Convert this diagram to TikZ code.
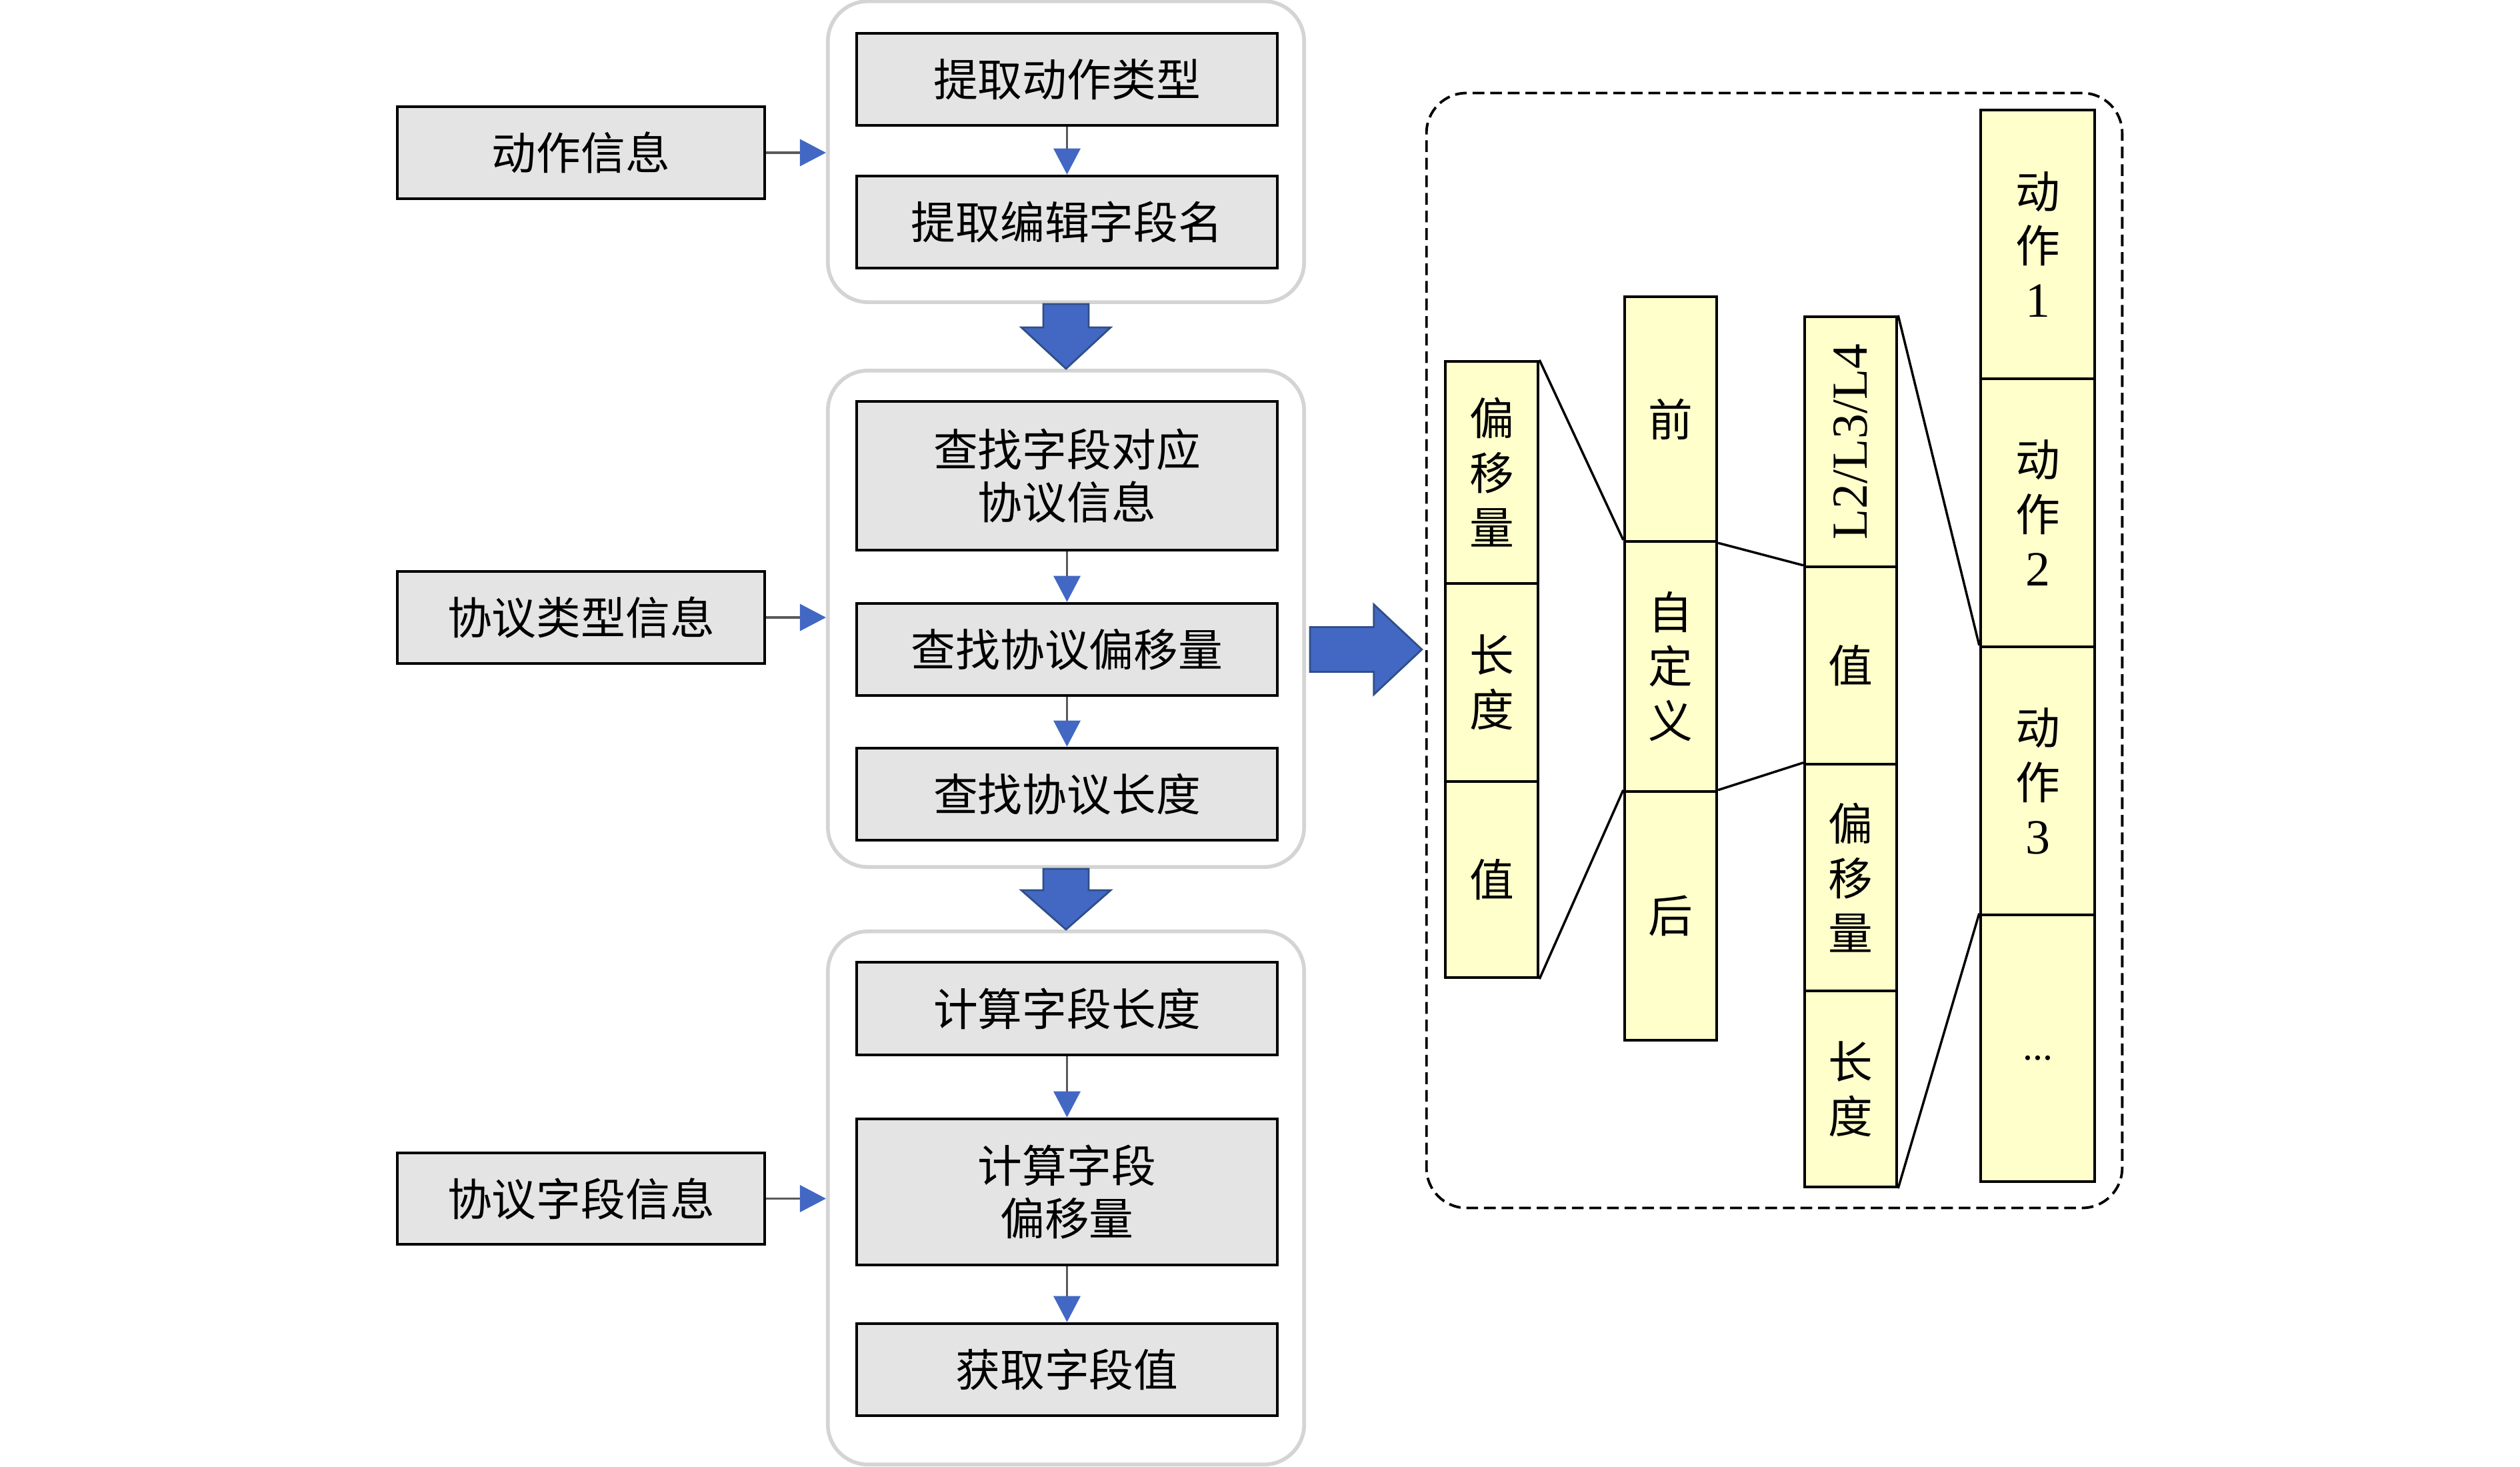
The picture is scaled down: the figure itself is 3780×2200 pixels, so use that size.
\documentclass[tikz,border=0pt]{standalone}
\usepackage{fontspec}
\setmainfont{Liberation Serif}
\newfontfamily\cjk{Noto Sans CJK SC}
\usetikzlibrary{arrows.meta,calc}
\definecolor{boxgray}{RGB}{228,228,228}
\definecolor{paleyellow}{RGB}{255,255,204}
\definecolor{arrowblue}{RGB}{66,104,196}
\definecolor{arrowedge}{RGB}{48,78,135}
\definecolor{groupgray}{RGB}{212,212,212}
\definecolor{linegray}{RGB}{90,90,90}
\begin{document}
\begin{tikzpicture}[x=0.01cm,y=-0.01cm,
  gbox/.style={draw=black,line width=1.3pt,fill=boxgray,inner sep=0pt,align=center,
    font=\cjk\fontsize{19}{22.7}\selectfont},
  grp/.style={draw=groupgray,line width=1.6pt,fill=white,rounded corners=0.6cm,inner sep=0pt},
  ybox/.style={draw=black,line width=1.2pt,fill=paleyellow,inner sep=0pt,align=center,
    font=\cjk\fontsize{19}{23.3}\selectfont},
  flow/.style={draw=linegray,line width=1pt,-{Triangle[length=0.39cm,width=0.4cm,color=arrowblue]}},
  link/.style={draw=black,line width=1pt},
  bigarrow/.style={fill=arrowblue,draw=arrowedge,line width=0.8pt,line join=miter},
  frame/.style={draw=black,line width=1.1pt,dash pattern=on 5pt off 2.5pt,rounded corners=0.6cm,inner sep=0pt}
]
\useasboundingbox (0,0) rectangle (3780,2200);

% groups
\node[grp,minimum width=7.14cm,minimum height=4.51cm] (g1) at (1599,227.5) {};
\node[grp,minimum width=7.14cm,minimum height=7.44cm] (g2) at (1599,928) {};
\node[grp,minimum width=7.14cm,minimum height=7.99cm] (g3) at (1599,1796.5) {};

% left input boxes
\node[gbox,minimum width=5.51cm,minimum height=1.38cm] (l1) at (871.5,229) {动作信息};
\node[gbox,minimum width=5.51cm,minimum height=1.38cm] (l2) at (871.5,926) {协议类型信息};
\node[gbox,minimum width=5.51cm,minimum height=1.37cm] (l3) at (871.5,1797.5) {协议字段信息};

% middle step boxes
\node[gbox,minimum width=6.31cm,minimum height=1.38cm] (b1) at (1600.5,119) {提取动作类型};
\node[gbox,minimum width=6.31cm,minimum height=1.38cm] (b2) at (1600.5,333) {提取编辑字段名};
\node[gbox,minimum width=6.31cm,minimum height=2.23cm] (b3) at (1600.5,713.5) {查找字段对应\\协议信息};
\node[gbox,minimum width=6.31cm,minimum height=1.38cm] (b4) at (1600.5,974) {查找协议偏移量};
\node[gbox,minimum width=6.31cm,minimum height=1.38cm] (b5) at (1600.5,1191) {查找协议长度};
\node[gbox,minimum width=6.31cm,minimum height=1.39cm] (b6) at (1600.5,1512.5) {计算字段长度};
\node[gbox,minimum width=6.31cm,minimum height=2.19cm] (b7) at (1600.5,1787.5) {计算字段\\偏移量};
\node[gbox,minimum width=6.31cm,minimum height=1.38cm] (b8) at (1600.5,2054) {获取字段值};

% small flow arrows
\draw[flow] (b1.south) -- (b2.north);
\draw[flow] (b3.south) -- (b4.north);
\draw[flow] (b4.south) -- (b5.north);
\draw[flow] (b6.south) -- (b7.north);
\draw[flow] (b7.south) -- (b8.north);
\draw[flow] (l1.east) -- (l1.east -| g1.west);
\draw[flow] (l2.east) -- (l2.east -| g2.west);
\draw[flow] (l3.east) -- (l3.east -| g3.west);

% big down arrows
\coordinate (s1) at (g1.south);
\filldraw[bigarrow] ($(s1)+(-34,0)$) -- ($(s1)+(34,0)$) -- ($(s1)+(34,35)$) -- ($(s1)+(67,35)$)
  -- (g2.north) -- ($(s1)+(-67,35)$) -- ($(s1)+(-34,35)$) -- cycle;
\coordinate (s2) at (g2.south);
\filldraw[bigarrow] ($(s2)+(-34,0)$) -- ($(s2)+(34,0)$) -- ($(s2)+(34,32)$) -- ($(s2)+(67,32)$)
  -- (g3.north) -- ($(s2)+(-67,32)$) -- ($(s2)+(-34,32)$) -- cycle;

% dashed frame
\node[frame,minimum width=10.43cm,minimum height=16.71cm] (fr) at (2661.5,975.5) {};

% big right arrow
\coordinate (r0) at ($(g2.east |- b4.center)+(6,0)$);
\coordinate (r1) at ($(fr.west |- b4.center)+(-5,0)$);
\filldraw[bigarrow] ($(r0)+(0,-33.5)$) -- ($(r1)+(-72,-33.5)$) -- ($(r1)+(-72,-67.5)$) -- (r1)
  -- ($(r1)+(-72,67.5)$) -- ($(r1)+(-72,33.5)$) -- ($(r0)+(0,33.5)$) -- cycle;

% column A
\node[ybox,minimum width=1.39cm,minimum height=3.33cm] (a1) at (2237.5,708.5) {偏\\移\\量};
\node[ybox,minimum width=1.39cm,minimum height=2.97cm] (a2) at (2237.5,1023.5) {长\\度};
\node[ybox,minimum width=1.39cm,minimum height=2.94cm] (a3) at (2237.5,1319) {值};
% column B
\node[ybox,minimum width=1.38cm,minimum height=3.67cm] (c1b) at (2506,628.5) {前};
\node[ybox,minimum width=1.38cm,minimum height=3.75cm] (c2b) at (2506,999.5) {自\\定\\义};
\node[ybox,minimum width=1.38cm,minimum height=3.73cm] (c3b) at (2506,1373.5) {后};
% column C
\node[ybox,minimum width=1.38cm,minimum height=3.75cm,
  label={[rotate=90,font=\rmfamily\fontsize{21.5}{24}\selectfont]center:L2/L3/L4}] (c1) at (2776,662.5) {};
\node[ybox,minimum width=1.38cm,minimum height=2.96cm] (c2) at (2776,998) {值};
\node[ybox,minimum width=1.38cm,minimum height=3.40cm] (c3) at (2776,1316) {偏\\移\\量};
\node[ybox,minimum width=1.38cm,minimum height=2.94cm] (c4) at (2776,1633) {长\\度};
% column D
\node[ybox,minimum width=1.71cm,minimum height=4.03cm] (d1) at (3056.5,366.5) {动\\作\\{\rmfamily\fontsize{21}{23.3}\selectfont 1}};
\node[ybox,minimum width=1.71cm,minimum height=4.02cm] (d2) at (3056.5,769) {动\\作\\{\rmfamily\fontsize{21}{23.3}\selectfont 2}};
\node[ybox,minimum width=1.71cm,minimum height=4.02cm] (d3) at (3056.5,1171) {动\\作\\{\rmfamily\fontsize{21}{23.3}\selectfont 3}};
\node[ybox,minimum width=1.71cm,minimum height=4.00cm] (d4) at (3056.5,1572) {\raisebox{-0.17cm}[0pt][0pt]{\rmfamily\fontsize{17}{20}\selectfont ...}};

% expansion links
\draw[link] (a1.north east) -- (c2b.north west);
\draw[link] (a3.south east) -- (c3b.north west);
\draw[link] (c1b.south east) -- (c2.north west);
\draw[link] (c3b.north east) -- (c3.north west);
\draw[link] (c1.north east) -- (d3.north west);
\draw[link] (c4.south east) -- (d4.north west);
\end{tikzpicture}
\end{document}
